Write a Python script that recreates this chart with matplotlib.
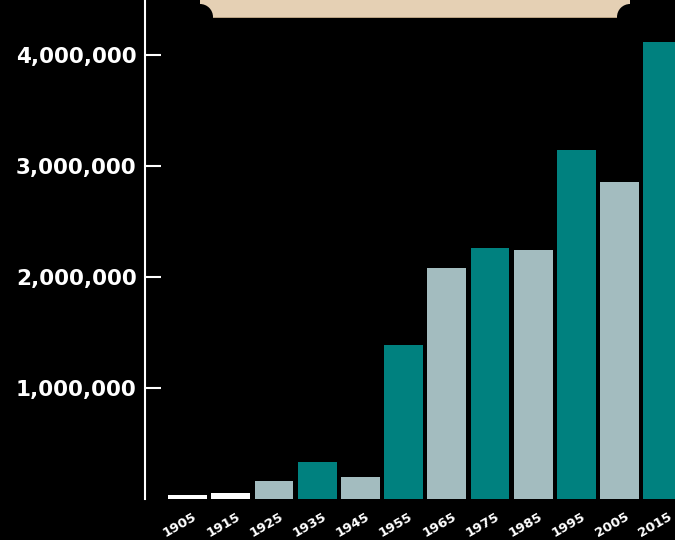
import matplotlib.pyplot as plt
import matplotlib.transforms as mtransforms
from matplotlib.patches import Rectangle, Ellipse
from matplotlib.ticker import FuncFormatter

years = ["1905", "1915", "1925", "1935", "1945", "1955", "1965", "1975", "1985", "1995", "2005", "2015"]
values = [32000, 58000, 158000, 333000, 194000, 1387000, 2081000, 2261000, 2243000, 3144000, 2856000, 4117000]
bar_colors = ["#ffffff", "#ffffff", "#a3bcbf", "#00817f", "#a3bcbf", "#00817f",
              "#a3bcbf", "#00817f", "#a3bcbf", "#00817f", "#a3bcbf", "#00817f"]
y_ticks = [1000000, 2000000, 3000000, 4000000]

fig = plt.figure(figsize=(6.75, 5.4), dpi=100, facecolor="black")
ax = fig.add_axes([145 / 675, 41 / 540, 530 / 675, 499 / 540])
ax.set_facecolor("black")

x = list(range(len(years)))
ax.bar(x, values, width=0.9, color=bar_colors, zorder=2)

ax.set_xlim(-0.984, 11.28)
ax.set_ylim(0, 4.495e6)

# only the left spine, white
for side in ["top", "right", "bottom"]:
    ax.spines[side].set_visible(False)
ax.spines["left"].set_color("white")
ax.spines["left"].set_linewidth(1.5)

ax.set_yticks(y_ticks)
ax.yaxis.set_major_formatter(FuncFormatter(lambda v, p: f"{int(v):,}"))
ax.tick_params(axis="y", direction="in", length=11.5, width=1.5, color="white",
               labelcolor="white", pad=6, labelsize=15.5)
for lab in ax.get_yticklabels():
    lab.set_fontweight("heavy")

ax.set_xticks(x)
ax.set_xticklabels(years, rotation=30, ha="right", va="top", rotation_mode="anchor",
                   fontsize=9.5, fontweight="heavy", color="white")
ax.tick_params(axis="x", length=0, pad=8)
shift = mtransforms.ScaledTranslation(5 / 100, 0, fig.dpi_scale_trans)
for lab in ax.get_xticklabels():
    lab.set_transform(lab.get_transform() + shift)

# beige banner at the top with scooped corners
fig.add_artist(Rectangle((200 / 675, 1 - 17 / 540), 430 / 675, 17 / 540,
                         transform=fig.transFigure, facecolor="#e5d0b4",
                         edgecolor="none", zorder=5))
fig.add_artist(Rectangle((200 / 675, 1 - 18 / 540), 430 / 675, 1.5 / 540,
                         transform=fig.transFigure, facecolor="#b9a283",
                         edgecolor="none", zorder=5))
for cx in [200, 630]:
    fig.add_artist(Ellipse((cx / 675, 1 - 17 / 540), 26 / 675, 26 / 540,
                           transform=fig.transFigure, facecolor="black",
                           edgecolor="none", zorder=6))

fig.savefig("out.png", dpi=100, facecolor="black")
